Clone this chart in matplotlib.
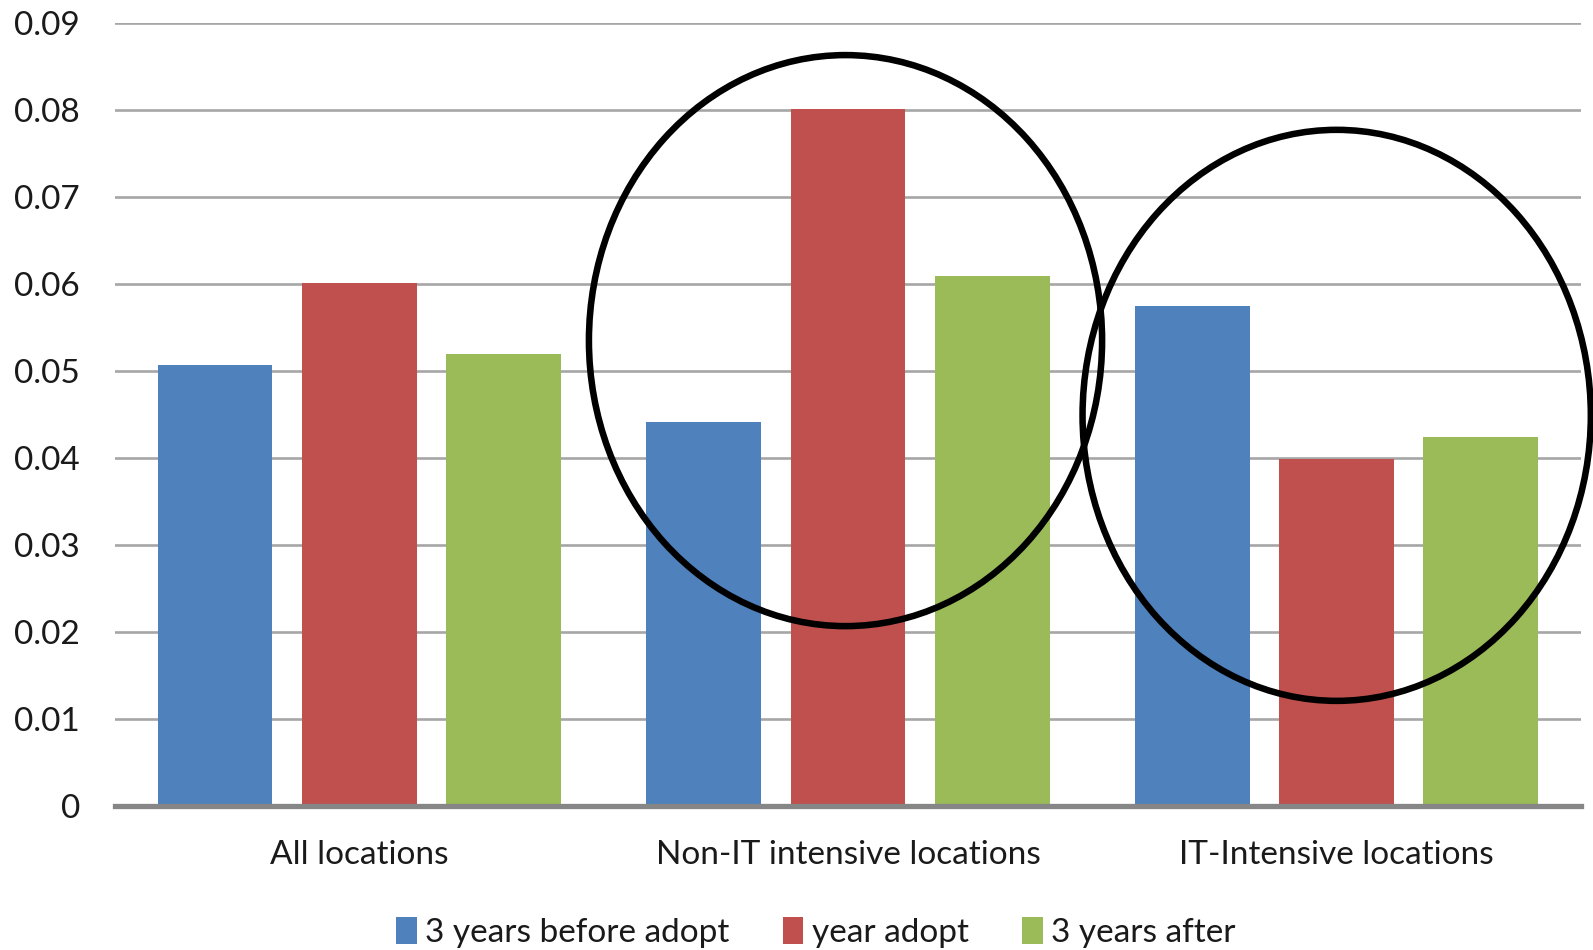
import numpy as np
import matplotlib
matplotlib.use("Agg")
import matplotlib.pyplot as plt
from matplotlib.patches import Ellipse

categories = ["All locations", "Non-IT intensive locations", "IT-Intensive locations"]
series_names = ["3 years before adopt", "year adopt", "3 years after"]
before_adopt = [0.0507, 0.0441, 0.0575]
year_adopt = [0.0601, 0.0802, 0.0399]
years_after = [0.0520, 0.0609, 0.0424]
colors = ["#4f81bd", "#c0504d", "#9bbb59"]
yticks = [0, 0.01, 0.02, 0.03, 0.04, 0.05, 0.06, 0.07, 0.08, 0.09]
ytick_labels = ["0", "0.01", "0.02", "0.03", "0.04", "0.05", "0.06", "0.07", "0.08", "0.09"]

plt.rcParams["font.family"] = ["Lato", "DejaVu Sans"]

fig = plt.figure(figsize=(15.93, 9.5), dpi=100)
ax = fig.add_axes([0.0721, 0.152, 0.9204, 0.8234])

x = np.arange(len(categories))
step = 0.295
width = 0.235
handles = []
for i, (vals, name, c) in enumerate(zip([before_adopt, year_adopt, years_after], series_names, colors)):
    b = ax.bar(x + (i - 1) * step, vals, width, color=c, label=name, zorder=3)
    handles.append(b)

ax.set_xlim(-0.5, 2.5)
ax.set_ylim(0, 0.09)
ax.set_yticks(yticks)
ax.set_yticklabels(ytick_labels)
ax.set_xticks(x)
ax.set_xticklabels(categories)
ax.yaxis.grid(True, color="#a6a6a6", linewidth=1.9, zorder=0)
ax.set_axisbelow(True)
for s in ["top", "right", "left"]:
    ax.spines[s].set_visible(False)
ax.spines["bottom"].set_color("#868686")
ax.spines["bottom"].set_linewidth(3.8)
ax.spines["bottom"].set_zorder(4)
ax.tick_params(axis="y", length=0, pad=25, labelsize=24, labelcolor="#1a1a1a")
ax.tick_params(axis="x", length=0, pad=24.5, labelsize=24, labelcolor="#1a1a1a")

# hand-drawn highlight circles
for cx, cy, w, h in [(0.995, 0.0535, 1.05, 0.0657), (2.0, 0.0449, 1.04, 0.0657)]:
    e = Ellipse((cx, cy), w, h, fill=False, edgecolor="black", linewidth=4.7,
                zorder=5, clip_on=False)
    ax.add_patch(e)

fig.legend(handles=handles, labels=series_names, loc="center", bbox_to_anchor=(0.512, 0.018),
           ncol=3, frameon=False, fontsize=24, handlelength=0.62, handleheight=0.85,
           handletextpad=0.25, columnspacing=1.6, labelcolor="#1a1a1a")

fig.savefig("out.png", dpi=100)
